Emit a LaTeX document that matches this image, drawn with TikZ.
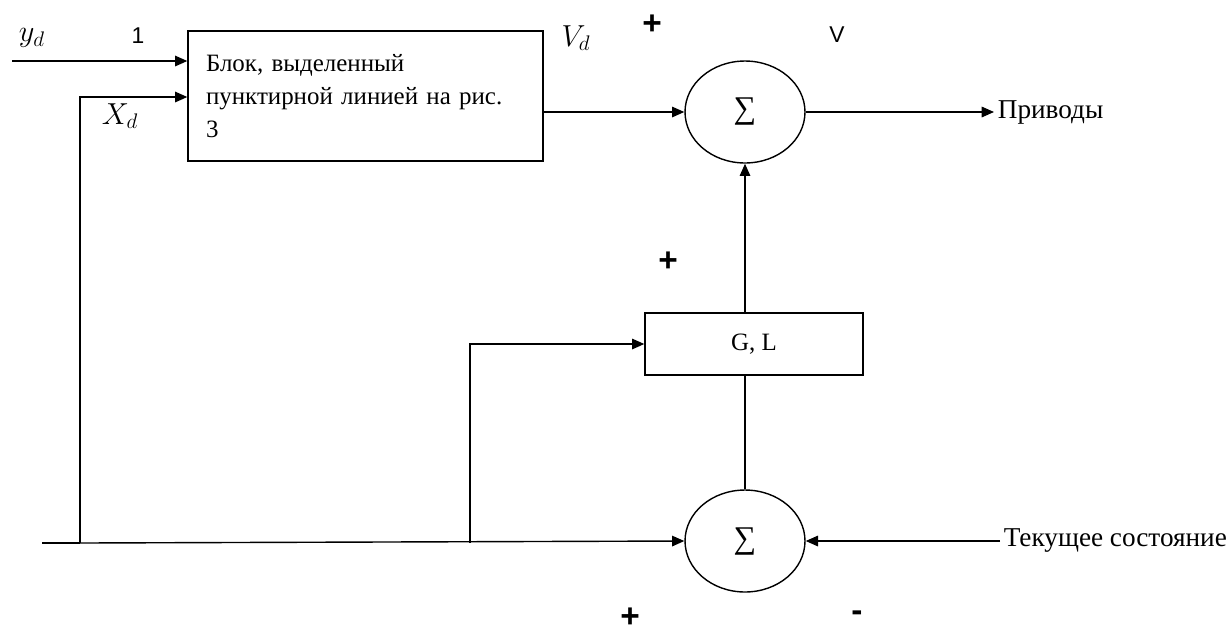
\documentclass[tikz,border=0pt]{standalone}
\usepackage{amsmath}
\usepackage{fontspec}
\setmainfont{Liberation Serif}
\newfontfamily\signfont{Liberation Sans}
\usetikzlibrary{arrows.meta, shapes.geometric}

\begin{document}
\begin{tikzpicture}[x=0.02cm, y=-0.02cm,
  block/.style={draw, line width=0.8pt, inner sep=0pt, font=\fontsize{14.2}{18.7}\selectfont},
  summer/.style={draw, ellipse, line width=0.8pt, minimum width=2.4cm,
                 minimum height=2.04cm, inner sep=0pt, font=\fontsize{18}{18}\selectfont},
  arr/.style={-{Triangle[length=7pt,width=6pt]}, line width=0.8pt},
  wire/.style={line width=0.8pt},
  sign/.style={font=\signfont\bfseries\fontsize{19}{19}\selectfont},
  tag/.style={font=\signfont\fontsize{13}{13}\selectfont},
  mth/.style={font=\fontsize{17}{17}\selectfont},
  lbl/.style={font=\fontsize{15.5}{18}\selectfont}
]
  \useasboundingbox (0,0) rectangle (1229,633);

  \node[block, minimum width=7.1cm, minimum height=2.6cm, text width=6.38cm,
        inner xsep=0.36cm, align=left] (blk) at (365.5,96)
        {Блок, выделенный\\пунктирной линией на рис.\\3};
  \node[block, minimum width=4.36cm, minimum height=1.24cm] (gl) at (754,344) {G, L};
  \node[summer] (sum1) at (745,112) {\raisebox{-3pt}{∑}};
  \node[summer] (sum2) at (745,541) {\raisebox{-3pt}{∑}};

  \node[lbl, anchor=west, inner sep=2pt] (out)   at (994,112) {Приводы};
  \node[lbl, anchor=west, inner sep=2pt] (state) at (1000,541) {Текущее состояние};

  \coordinate (yin) at (12,61);
  \coordinate (xin) at (42,543);
  \coordinate (j1)  at (80,543);
  \coordinate (j2)  at (470,543);

  % signals
  \draw[arr] (yin) -- (yin -| blk.west);
  \draw[wire] (xin) -- (j1);
  \draw[arr] (j1) |- ([yshift=-0.02cm]blk.west);
  \draw[arr] (j1) -- (sum2.west);
  \draw[arr] (j2) |- (gl.west);
  \draw[arr] (sum1 -| blk.east) -- (sum1.west);
  \draw[arr] (sum1.east) -- (out.west);
  \draw[arr] (sum1.south |- gl.north) -- (sum1.south);
  \draw[wire] (sum2.north) -- (sum2.north |- gl.south);
  \draw[arr] (state.west) -- (sum2.east);

  % labels
  \node[mth]  (ydl) at (32,38)   {$y_d$};
  \node[tag]  (one) at (138,36)  {1};
  \node[mth]  (xdl) at (120,116) {$X_d$};
  \node[mth]  (vdl) at (576,38)  {$V_d$};
  \node[tag]  (vl)  at (837,35)  {V};
  \node[sign] (p1)  at (652,25)  {+};
  \node[sign] (p2)  at (668,262) {+};
  \node[sign] (p3)  at (630,618) {+};
  \node[sign] (m1)  at (857,616) {-};
\end{tikzpicture}
\end{document}
